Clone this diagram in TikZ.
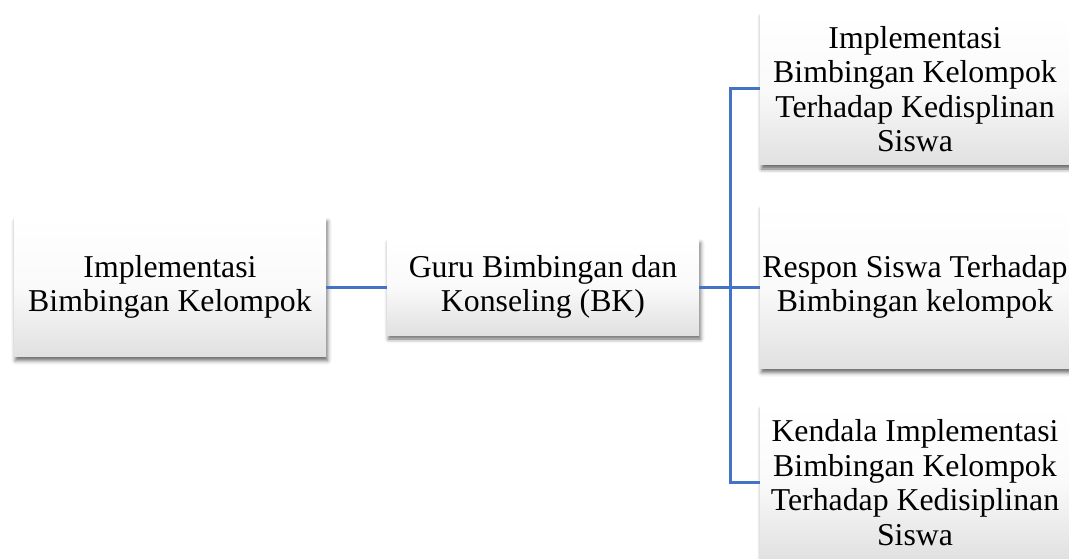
\documentclass[tikz,border=0pt]{standalone}
\usepackage{fontspec}
\setmainfont{Liberation Serif}
\usetikzlibrary{shadows.blur}
\definecolor{linkblue}{HTML}{4472C4}
\tikzset{
  box/.style={rectangle, inner sep=0pt, align=center,
    font=\fontsize{31.8}{34.5}\selectfont,
    top color=white, bottom color=black!12, middle color=black!2,
    blur shadow={shadow xshift=1.5pt, shadow yshift=-4pt, shadow blur radius=4pt, shadow opacity=60}},
  link/.style={draw=linkblue, line width=3pt}
}
\begin{document}
\begin{tikzpicture}[x=1pt, y=-1pt]
\useasboundingbox (0,0) rectangle (1069,559);
\node[box, minimum width=312pt, minimum height=139pt] (b1) at (170,287) {Implementasi\\Bimbingan Kelompok};
\node[box, minimum width=312pt, minimum height=96pt] (b2) at (543,287) {Guru Bimbingan dan\\Konseling (BK)};
\node[box, minimum width=310pt, minimum height=152pt] (r1) at (915,89) {Implementasi\\Bimbingan Kelompok\\Terhadap Kedisplinan\\Siswa};
\node[box, minimum width=310pt, minimum height=163pt] (r2) at (915,287) {Respon Siswa Terhadap\\Bimbingan kelompok};
\node[box, minimum width=310pt, minimum height=154pt] (r3) at (915,482.5) {Kendala Implementasi\\Bimbingan Kelompok\\Terhadap Kedisiplinan\\Siswa};
\coordinate (br) at (730,287);
\draw[link] (b1.east) -- (b2.west);
\draw[link] (b2.east) -- (br);
\draw[link] (br) |- (r1.west);
\draw[link] (br) -- (r2.west);
\draw[link] (br) |- (r3.west);
\end{tikzpicture}
\end{document}
